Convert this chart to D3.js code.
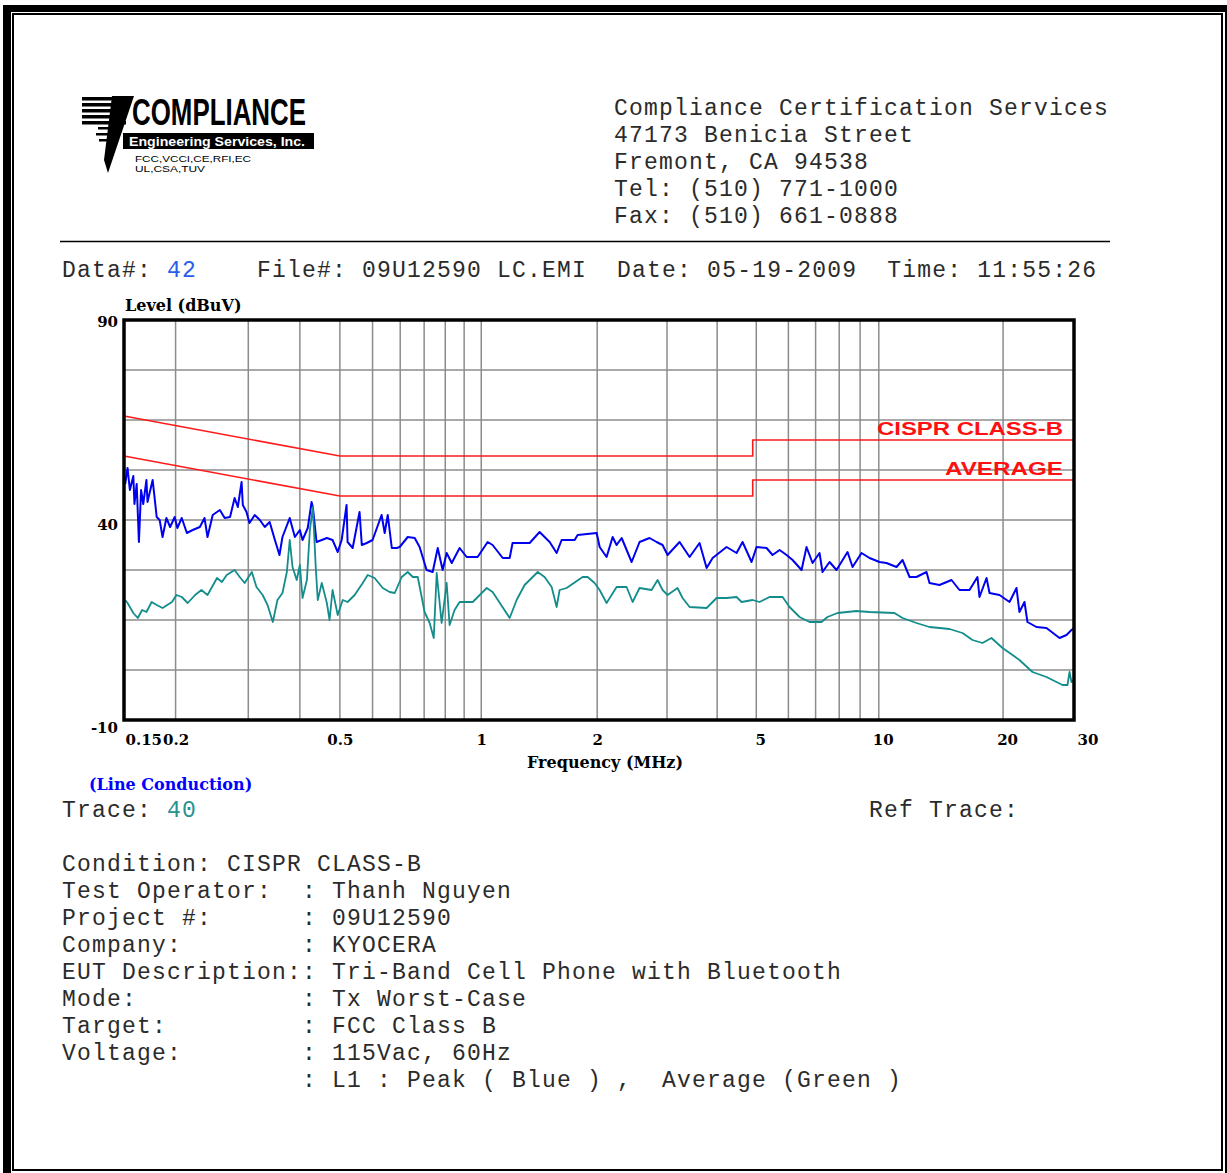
<!DOCTYPE html>
<html>
<head>
<meta charset="utf-8">
<script src="https://cdnjs.cloudflare.com/ajax/libs/d3/7.8.5/d3.min.js"></script>
<style>
body{margin:0;background:#fff;}
.mono{font-family:'Liberation Mono','Courier New',monospace;font-size:23px;letter-spacing:1.2px;fill:#2b2b2b;white-space:pre;}
.lbl{font-family:'DejaVu Serif','Liberation Serif',serif;font-weight:bold;font-size:16px;fill:#000;}
.tick{font-family:'DejaVu Serif','Liberation Serif',serif;font-weight:bold;font-size:15px;fill:#000;}
</style>
</head>
<body>
<div id="chart"></div>
<script>
//peak trace (blue) [MHz, dBuV]
const peakTrace = [
  [0.151,49],[0.153,53],[0.155,47.5],[0.158,51],[0.159,44],[0.161,49],[0.163,34.5],[0.165,47.5],
  [0.167,44],[0.170,50],[0.171,44.5],[0.176,50],[0.180,40.75],[0.183,40],[0.186,35.75],[0.190,40.5],
  [0.194,38.25],[0.199,40.75],[0.202,38],[0.207,40.5],[0.213,36.75],[0.220,37.5],[0.229,38.25],
  [0.235,40.5],[0.239,35.75],[0.246,41.25],[0.256,42.5],[0.263,40.5],[0.271,40.75],[0.278,45.5],
  [0.283,43.25],[0.289,49.5],[0.291,43.75],[0.297,42],[0.302,39.25],[0.311,41.25],[0.320,40],
  [0.329,38.25],[0.338,39.5],[0.348,35],[0.357,31.25],[0.363,35.75],[0.378,40.5],[0.389,35.75],
  [0.400,37.5],[0.406,35],[0.418,38],[0.427,44.5],[0.430,43.25],[0.439,34.5],[0.452,35],[0.465,35.5],
  [0.480,35],[0.494,32],[0.505,35],[0.519,43.75],[0.522,34.5],[0.537,33],[0.558,42],[0.565,33.75],
  [0.581,34.25],[0.600,35],[0.631,41.25],[0.642,36.75],[0.653,41.25],[0.668,33],[0.687,33],
  [0.698,33.25],[0.730,35.75],[0.759,35.5],[0.780,33.25],[0.811,27.5],[0.839,27],[0.863,33],
  [0.887,27.5],[0.907,31.75],[0.933,29.25],[0.975,33],[1.014,30.75],[1.078,30.75],[1.140,34.5],
  [1.172,33.75],[1.240,30.5],[1.289,30.5],[1.310,34.25],[1.441,34.25],[1.523,37],[1.611,34.5],
  [1.675,31.75],[1.722,35],[1.852,35],[1.883,36.25],[2.094,36.75],[2.129,33.25],[2.213,30.75],
  [2.289,35.75],[2.340,33.75],[2.407,35.5],[2.545,29.5],[2.660,34.5],[2.813,35.5],[2.925,34.5],
  [3.024,33.75],[3.110,31.25],[3.325,34.5],[3.516,30.75],[3.717,34.25],[3.866,28],[3.998,30.5],
  [4.321,33.25],[4.569,31.75],[4.724,34.5],[4.968,29.5],[5.108,33.25],[5.401,33],[5.585,31.25],
  [5.808,32.5],[6.039,31.25],[6.244,30],[6.565,27.5],[6.750,33.25],[6.980,29.25],[7.257,31.75],
  [7.379,27],[7.674,29.5],[7.979,27.5],[8.484,32],[8.724,28.25],[9.173,31.75],[9.590,30.5],
  [10.14,29.5],[10.54,29.25],[11.15,28.25],[11.53,30],[11.99,25.75],[12.46,25.75],[13.18,27],
  [13.40,24.25],[14.17,23.75],[15.15,25],[15.84,22.5],[16.75,22.5],[17.51,25.75],[17.71,20.75],
  [18.42,25.5],[18.73,21.75],[19.80,21.25],[20.94,19.5],[21.77,23],[22.13,17],[22.76,19.5],
  [23.14,14.5],[24.33,13.25],[25.73,13],[27.67,10.5],[28.77,11.25],[29.58,12.5],[30,13]
];

//average trace (green)
const avgTrace = [
  [0.151,20],[0.153,19.25],[0.158,16.75],[0.162,15.5],[0.166,17.5],[0.170,17],[0.175,19.5],
  [0.180,18.75],[0.186,18],[0.196,19.5],[0.201,21.25],[0.207,20.75],[0.214,19.25],[0.223,21.25],
  [0.231,22.5],[0.239,21.25],[0.252,25.5],[0.259,24.5],[0.266,26.25],[0.278,27.5],[0.286,25.75],
  [0.294,24.25],[0.306,27],[0.314,23.25],[0.325,21.25],[0.334,18.75],[0.344,14.5],[0.353,20],
  [0.363,21.75],[0.372,27],[0.378,35],[0.384,28.25],[0.393,25],[0.400,28.75],[0.406,20.5],
  [0.416,25],[0.423,37.5],[0.430,43.25],[0.437,28.25],[0.442,20],[0.452,24.25],[0.465,19.25],
  [0.472,15],[0.480,22.5],[0.494,16.25],[0.508,20],[0.522,19.5],[0.543,21.25],[0.568,24.25],
  [0.584,26.25],[0.607,25.5],[0.635,23],[0.660,22],[0.679,21.75],[0.706,25.75],[0.730,27],
  [0.751,25.75],[0.772,25.75],[0.802,17],[0.825,14.25],[0.844,10.5],[0.858,26.75],[0.882,14.25],
  [0.907,24.25],[0.922,13.75],[0.948,17.5],[0.975,19.5],[1.014,19.5],[1.049,19.5],[1.134,23],
  [1.172,22],[1.289,15.5],[1.340,20],[1.401,23.75],[1.507,27],[1.566,25.75],[1.629,23.25],
  [1.675,18.25],[1.703,22.5],[1.771,23],[1.936,25.75],[1.991,25.75],[2.070,24.25],[2.129,22.5],
  [2.213,19.25],[2.340,23.25],[2.474,23.25],[2.559,19.5],[2.660,23],[2.844,22.5],[2.941,25],
  [3.024,22.5],[3.110,21.25],[3.287,23],[3.381,20.5],[3.516,18.25],[3.866,18],[4.088,20.5],
  [4.321,20.5],[4.569,20.75],[4.698,19.5],[4.995,20],[5.194,19.5],[5.492,20.75],[5.906,20.75],
  [6.140,18.25],[6.492,15.75],[6.864,14.5],[7.338,14.5],[7.587,15.75],[8.023,16.75],[8.920,17.25],
  [9.590,17],[11.02,16.75],[11.53,15.5],[12.46,14.25],[13.40,13.25],[14.98,12.75],[16.11,11.75],
  [17.03,10],[18.01,9.25],[18.93,10.5],[20.14,8],[22.13,5],[23.80,2],[25.73,0.75],[28.14,-1.25],
  [28.93,-1.25],[29.26,2],[29.58,-0.5],[30,0]
];

//CISPR class B limits
const qpLimit = [[0.15,66],[0.5,56],[5,56],[5,60],[30,60]];
const avLimit = [[0.15,56],[0.5,46],[5,46],[5,50],[30,50]];

//grid as drawn by the analyser software
const gridFreqs = [0.2,0.3,0.4,0.5,0.6,0.7,0.8,0.9,1.0,1.1,2.1,3.1,4.1,5.1,6.1,7.1,8.1,9.1,10.1,20.2];
const gridLevels = [77.5,65,52.5,40,27.5,15,2.5];
const xTickVals = [0.15,0.2,0.5,1.1,2.1,5.1,10.1,20.2,30];
const xTickText = ['0.15','0.2','0.5','1','2','5','10','20','30'];
const yTickVals = [90,40,-10];

const addressLines = ['Compliance Certification Services','47173 Benicia Street','Fremont, CA 94538',
  'Tel: (510) 771-1000','Fax: (510) 661-0888'];
const infoLines = [
  'Condition: CISPR CLASS-B',
  'Test Operator:  : Thanh Nguyen',
  'Project #:      : 09U12590',
  'Company:        : KYOCERA',
  'EUT Description:: Tri-Band Cell Phone with Bluetooth',
  'Mode:           : Tx Worst-Case',
  'Target:         : FCC Class B',
  'Voltage:        : 115Vac, 60Hz',
  '                : L1 : Peak ( Blue ) ,  Average (Green )'
];

const svg_width = 1227, svg_height = 1173;
const plot = {left:124, right:1074, top:320, bottom:720};

const svg = d3.select('#chart').append('svg')
  .attr('width',svg_width).attr('height',svg_height)
  .style('display','block');

//page frame
const frame = svg.append('g').attr('class','frame');
frame.append('rect').attr('x',3).attr('y',5).attr('width',8).attr('height',1170).attr('fill','#000');
frame.append('rect').attr('x',3).attr('y',5).attr('width',1224).attr('height',7).attr('fill','#000');
frame.append('rect').attr('x',1225).attr('y',5).attr('width',4).attr('height',1170).attr('fill','#000');
frame.append('rect').attr('x',13).attr('y',14).attr('width',1209).attr('height',1156)
  .attr('fill','none').attr('stroke','#000').attr('stroke-width',2);

//logo
function drawLogo(g){
  [97,103,109,115,121].forEach(y=>{
    g.append('rect').attr('x',82).attr('y',y).attr('width',44).attr('height',3.5).attr('fill','#000');
  });
  [[98,127,12],[96,133,14],[99,139,10]].forEach(d=>{
    g.append('rect').attr('x',d[0]).attr('y',d[1]).attr('width',d[2]).attr('height',2.5).attr('fill','#000');
  });
  g.append('path').attr('d','M112,96 L134,96 L108,173 L104,160 Z').attr('fill','#000');
  g.append('text').attr('x',132).attr('y',125)
    .attr('textLength',174).attr('lengthAdjust','spacingAndGlyphs')
    .style('font-family',"'Liberation Sans Narrow','Liberation Sans',sans-serif")
    .style('font-weight','bold').style('font-size','37px').text('COMPLIANCE');
  g.append('rect').attr('x',123).attr('y',133).attr('width',191).attr('height',16).attr('fill','#000');
  g.append('text').attr('x',129).attr('y',145.5)
    .attr('textLength',176).attr('lengthAdjust','spacingAndGlyphs')
    .style('font-family',"'Liberation Sans',sans-serif").style('font-weight','bold')
    .style('font-size','12px').style('fill','#fff').text('Engineering Services, Inc.');
  g.append('text').attr('x',135).attr('y',162)
    .attr('textLength',116).attr('lengthAdjust','spacingAndGlyphs')
    .style('font-family',"'Liberation Sans',sans-serif").style('font-size','9px').text('FCC,VCCI,CE,RFI,EC');
  g.append('text').attr('x',135).attr('y',172)
    .attr('textLength',70).attr('lengthAdjust','spacingAndGlyphs')
    .style('font-family',"'Liberation Sans',sans-serif").style('font-size','9px').text('UL,CSA,TUV');
}
drawLogo(svg.append('g').attr('class','logo'));

//address block
svg.append('g').selectAll('text').data(addressLines).join('text')
  .attr('class','mono').attr('x',614).attr('y',(d,i)=>115+i*27).text(d=>d);

svg.append('line').attr('x1',60).attr('x2',1110).attr('y1',241.5).attr('y2',241.5)
  .attr('stroke','#000').attr('stroke-width',1.5);

const dataLine = svg.append('text').attr('class','mono').attr('x',62).attr('y',277);
dataLine.append('tspan').text('Data#: ');
dataLine.append('tspan').style('fill','#2a5ee8').text('42');
dataLine.append('tspan').text('    File#: 09U12590 LC.EMI  Date: 05-19-2009  Time: 11:55:26');

//scales
const xScale = d3.scaleLog().domain([0.15,30]).range([plot.left,plot.right]);
const yScale = d3.scaleLinear().domain([-10,90]).range([plot.bottom,plot.top]);

const chart = svg.append('g').attr('class','chart');

//grid
chart.append('g').selectAll('line').data(gridFreqs).join('line')
  .attr('x1',d=>xScale(d)).attr('x2',d=>xScale(d))
  .attr('y1',plot.top).attr('y2',plot.bottom)
  .attr('stroke','#8c8c8c').attr('stroke-width',1.5);
chart.append('g').selectAll('line').data(gridLevels).join('line')
  .attr('x1',plot.left).attr('x2',plot.right)
  .attr('y1',d=>yScale(d)).attr('y2',d=>yScale(d))
  .attr('stroke','#8c8c8c').attr('stroke-width',1.5);

const line = d3.line().x(d=>xScale(d[0])).y(d=>yScale(d[1]));

//limits
[qpLimit,avLimit].forEach(l=>{
  chart.append('path').datum(l).attr('d',line)
    .attr('fill','none').attr('stroke','#ff1a1a').attr('stroke-width',1.6);
});

//traces
chart.append('path').datum(peakTrace).attr('d',line)
  .attr('fill','none').attr('stroke','#0000f0').attr('stroke-width',2).attr('stroke-linejoin','round');
chart.append('path').datum(avgTrace).attr('d',line)
  .attr('fill','none').attr('stroke','#138c8c').attr('stroke-width',1.8).attr('stroke-linejoin','round');

//limit labels
chart.append('text').attr('x',1063).attr('y',435).attr('text-anchor','end')
  .attr('textLength',186).attr('lengthAdjust','spacingAndGlyphs')
  .style('font-family',"'Liberation Sans',sans-serif").style('font-weight','bold')
  .style('font-size','19px').style('fill','#ff1010').text('CISPR CLASS-B');
chart.append('text').attr('x',1063).attr('y',475).attr('text-anchor','end')
  .attr('textLength',118).attr('lengthAdjust','spacingAndGlyphs')
  .style('font-family',"'Liberation Sans',sans-serif").style('font-weight','bold')
  .style('font-size','19px').style('fill','#ff1010').text('AVERAGE');

//plot frame
chart.append('rect').attr('x',plot.left).attr('y',plot.top)
  .attr('width',plot.right-plot.left).attr('height',plot.bottom-plot.top)
  .attr('fill','none').attr('stroke','#000').attr('stroke-width',3.5);

//axes
const xAxis = d3.axisBottom(xScale).tickValues(xTickVals)
  .tickFormat((d,i)=>xTickText[i]).tickSize(0).tickPadding(14);
const xAxisDraw = chart.append('g').attr('transform',`translate(0,${plot.bottom})`).call(xAxis);
xAxisDraw.select('.domain').remove();
xAxisDraw.selectAll('text').attr('class','tick').attr('fill',null)
  .attr('text-anchor',(d,i)=>(i===0||i===xTickVals.length-1)?'start':'middle')
  .attr('dx',(d,i)=>i===0?1:(i===xTickVals.length-1?3:(i>4?4:0)));

const yAxis = d3.axisLeft(yScale).tickValues(yTickVals).tickFormat(d=>String(d))
  .tickSize(0).tickPadding(6);
const yAxisDraw = chart.append('g').attr('transform',`translate(${plot.left},0)`).call(yAxis);
yAxisDraw.select('.domain').remove();
yAxisDraw.selectAll('text').attr('class','tick').attr('fill',null)
  .attr('dy',d=>d===90?'0.4em':(d===-10?'0.85em':'0.6em'));

chart.append('text').attr('class','lbl').attr('x',plot.left+1).attr('y',311).text('Level (dBuV)');
chart.append('text').attr('class','lbl').attr('x',605).attr('y',768)
  .attr('text-anchor','middle').text('Frequency (MHz)');
svg.append('text').attr('class','lbl').attr('x',89).attr('y',790)
  .style('fill','#0000ff').text('(Line Conduction)');

//trace line
const traceLine = svg.append('text').attr('class','mono').attr('x',62).attr('y',817);
traceLine.append('tspan').text('Trace: ');
traceLine.append('tspan').style('fill','#2a9090').text('40');
svg.append('text').attr('class','mono').attr('x',869).attr('y',817).text('Ref Trace:');

//test info
svg.append('g').selectAll('text').data(infoLines).join('text')
  .attr('class','mono').attr('x',62).attr('y',(d,i)=>871+i*27).text(d=>d);
</script>
</body>
</html>
